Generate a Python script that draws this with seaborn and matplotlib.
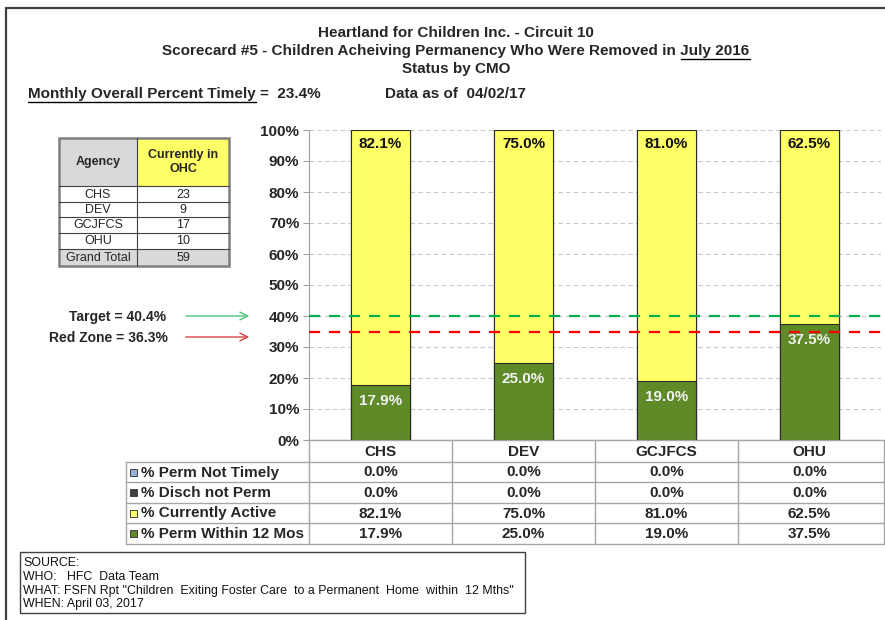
"""
Scorecard #5 - Children Achieving Permanency, status by CMO.
Stacked bars per agency with a data table under the axis.
"""
import matplotlib
matplotlib.use("Agg")
import matplotlib.pyplot as plt
import seaborn as sns
import pandas as pd
from matplotlib.patches import Rectangle

# --- DATA ---
AGENCIES = ['CHS', 'DEV', 'GCJFCS', 'OHU']
PCT_PERM_NOT_TIMELY = [0.0, 0.0, 0.0, 0.0]
PCT_DISCH_NOT_PERM = [0.0, 0.0, 0.0, 0.0]
PCT_CURRENTLY_ACTIVE = [82.1, 75.0, 81.0, 62.5]
PCT_PERM_WITHIN_12 = [17.9, 25.0, 19.0, 37.5]

SERIES_NAMES = ['% Perm Not Timely', '% Disch not Perm',
                '% Currently Active', '% Perm Within 12 Mos']

OHC_AGENCY = ['CHS', 'DEV', 'GCJFCS', 'OHU', 'Grand Total']
OHC_COUNT = [23, 9, 17, 10, 59]

TARGET_PCT = 40.4
RED_ZONE_PCT = 36.3
TARGET_LINE = 40.0      # where the lines actually sit on the original chart
RED_ZONE_LINE = 34.7
OVERALL_TIMELY = 23.4
DATA_AS_OF = '04/02/17'

TITLE_LINES = ['Heartland for Children Inc. - Circuit 10',
               'Scorecard #5 - Children Acheiving Permanency Who Were Removed in July 2016',
               'Status by CMO']
SOURCE_LINES = ['SOURCE:',
                'WHO:   HFC  Data Team',
                'WHAT: FSFN Rpt "Children  Exiting Foster Care  to a Permanent  Home  within  12 Mths"',
                'WHEN: April 03, 2017']

# --- STYLE ---
COLORS = {
    '% Perm Not Timely': '#95B3D7',
    '% Disch not Perm': '#404040',
    '% Currently Active': '#FFFF66',
    '% Perm Within 12 Mos': '#5E8A28',
}
W, H = 885, 620
AX_L, AX_R, AX_T, AX_B = 309, 881, 130, 440
GRID_C = '#C8C8C8'
TABLE_C = '#A6A6A6'

sns.set_style('white')
plt.rcParams['font.family'] = ['Liberation Sans', 'DejaVu Sans']

fig = plt.figure(figsize=(W / 100, H / 100), dpi=100)

# overlay in pixel units for the table / text furniture
ov = fig.add_axes([0, 0, 1, 1])
ov.set_xlim(0, W)
ov.set_ylim(H, 0)
ov.axis('off')

ax = fig.add_axes([AX_L / W, 1 - AX_B / H, (AX_R - AX_L) / W, (AX_B - AX_T) / H])

# --- STACKED BARS ---
df = pd.DataFrame({
    'Agency': AGENCIES,
    '% Perm Within 12 Mos': PCT_PERM_WITHIN_12,
    '% Currently Active': PCT_CURRENTLY_ACTIVE,
    '% Disch not Perm': PCT_DISCH_NOT_PERM,
    '% Perm Not Timely': PCT_PERM_NOT_TIMELY,
})
stack_order = ['% Perm Within 12 Mos', '% Currently Active', '% Disch not Perm', '% Perm Not Timely']
df_cum = df[stack_order].cumsum(axis=1)
df_cum['Agency'] = AGENCIES

for name in reversed(stack_order):
    sns.barplot(data=df_cum, x='Agency', y=name, order=AGENCIES, color=COLORS[name],
                saturation=1, width=0.41, edgecolor='#2b2b2b', linewidth=0.8,
                errorbar=None, ax=ax, zorder=2)

for i, ag in enumerate(AGENCIES):
    top_active = df_cum.loc[i, '% Currently Active']
    perm = df.loc[i, '% Perm Within 12 Mos']
    ax.text(i, top_active - 4.6, f"{df.loc[i, '% Currently Active']:.1f}%", ha='center', va='center',
            fontsize=11, fontweight='bold', color='#111111', zorder=4)
    ax.text(i, perm - 5.2, f"{perm:.1f}%", ha='center', va='center',
            fontsize=11, fontweight='bold', color='#F2F2F2', zorder=4)

ax.axhline(TARGET_LINE, color='#00B050', ls=(0, (5, 4)), lw=1.6, zorder=3)
ax.axhline(RED_ZONE_LINE, color='#FF0000', ls=(0, (5, 4)), lw=1.6, zorder=3)

ax.set_ylim(0, 100)
ax.set_xlim(-0.5, len(AGENCIES) - 0.5)
ax.set_yticks(range(0, 101, 10))
ax.set_yticklabels([f'{v}%' for v in range(0, 101, 10)], fontsize=11, fontweight='bold')
ax.yaxis.grid(True, linestyle=(0, (4, 3)), color=GRID_C, lw=0.8)
ax.set_axisbelow(True)
ax.set_xlabel('')
ax.set_ylabel('')
ax.set_xticks([])
ax.tick_params(axis='y', length=4, color='#A0A0A0', pad=3, left=True)
for s in ['top', 'right']:
    ax.spines[s].set_visible(False)
ax.spines['left'].set_color('#A0A0A0')
ax.spines['bottom'].set_color(TABLE_C)
ax.patch.set_alpha(0)

# --- DATA TABLE UNDER THE AXIS ---
ROW_Y = [440, 462, 482, 503, 523, 544]
TBL_L, TBL_R = 126, 884
col_w = (AX_R - AX_L) / len(AGENCIES)
col_edges = [AX_L + k * col_w for k in range(len(AGENCIES))] + [TBL_R]

ov.plot([AX_L, TBL_R], [ROW_Y[0], ROW_Y[0]], color=TABLE_C, lw=1)
for y in ROW_Y[1:]:
    ov.plot([TBL_L, TBL_R], [y, y], color=TABLE_C, lw=1)
ov.plot([TBL_L, TBL_L], [ROW_Y[1], ROW_Y[-1]], color=TABLE_C, lw=1)
for x in col_edges:
    ov.plot([x, x], [ROW_Y[0], ROW_Y[-1]], color=TABLE_C, lw=1)

series_vals = {
    '% Perm Not Timely': PCT_PERM_NOT_TIMELY,
    '% Disch not Perm': PCT_DISCH_NOT_PERM,
    '% Currently Active': PCT_CURRENTLY_ACTIVE,
    '% Perm Within 12 Mos': PCT_PERM_WITHIN_12,
}
for i, ag in enumerate(AGENCIES):
    cx = AX_L + (i + 0.5) * col_w
    ov.text(cx, (ROW_Y[0] + ROW_Y[1]) / 2 + 1, ag, ha='center', va='center',
            fontsize=11, fontweight='bold')
for r, name in enumerate(SERIES_NAMES):
    ym = (ROW_Y[r + 1] + ROW_Y[r + 2]) / 2
    ov.add_patch(Rectangle((130, ym - 3.5), 7, 7, facecolor=COLORS[name],
                           edgecolor='#404040', lw=0.7))
    ov.text(141, ym + 0.5, name, ha='left', va='center', fontsize=11, fontweight='bold')
    for i, v in enumerate(series_vals[name]):
        cx = AX_L + (i + 0.5) * col_w
        ov.text(cx, ym + 0.5, f'{v:.1f}%', ha='center', va='center',
                fontsize=11, fontweight='bold')

# --- CURRENTLY IN OHC TABLE ---
LT_X = [59, 137, 229]
LT_Y = [138, 186, 202, 217, 233, 249, 266]
ov.add_patch(Rectangle((LT_X[0], LT_Y[0]), LT_X[1] - LT_X[0], LT_Y[1] - LT_Y[0],
                       facecolor='#D9D9D9', lw=0))
ov.add_patch(Rectangle((LT_X[1], LT_Y[0]), LT_X[2] - LT_X[1], LT_Y[1] - LT_Y[0],
                       facecolor='#FFFF66', lw=0))
ov.add_patch(Rectangle((LT_X[0], LT_Y[-2]), LT_X[2] - LT_X[0], LT_Y[-1] - LT_Y[-2],
                       facecolor='#D9D9D9', lw=0))
for y in LT_Y[1:-1]:
    ov.plot([LT_X[0], LT_X[2]], [y, y], color='#404040', lw=0.8)
ov.plot([LT_X[1], LT_X[1]], [LT_Y[0], LT_Y[-1]], color='#404040', lw=0.8)
ov.add_patch(Rectangle((LT_X[0], LT_Y[0]), LT_X[2] - LT_X[0], LT_Y[-1] - LT_Y[0],
                       facecolor='none', edgecolor='#7F7F7F', lw=1.8))
hy = (LT_Y[0] + LT_Y[1]) / 2
ov.text((LT_X[0] + LT_X[1]) / 2, hy, 'Agency', ha='center', va='center',
        fontsize=9, fontweight='bold', color='#262626')
ov.text((LT_X[1] + LT_X[2]) / 2, hy, 'Currently in\nOHC', ha='center', va='center',
        fontsize=9, fontweight='bold', color='#262626', linespacing=1.2)
for k, (ag, n) in enumerate(zip(OHC_AGENCY, OHC_COUNT)):
    ym = (LT_Y[k + 1] + LT_Y[k + 2]) / 2 + 0.5
    ov.text((LT_X[0] + LT_X[1]) / 2, ym, ag, ha='center', va='center', fontsize=9, color='#262626')
    ov.text((LT_X[1] + LT_X[2]) / 2, ym, str(n), ha='center', va='center', fontsize=9, color='#262626')

# --- TARGET / RED ZONE CALLOUTS ---
ov.text(166, 317, f'Target = {TARGET_PCT}%', ha='right', va='center', fontsize=10, fontweight='bold')
ov.text(168, 338, f'Red Zone = {RED_ZONE_PCT}%', ha='right', va='center', fontsize=10, fontweight='bold')
ov.annotate('', xy=(252, 316), xytext=(183, 316),
            arrowprops=dict(arrowstyle='->', color='#4CC47A', lw=1, mutation_scale=14))
ov.annotate('', xy=(252, 337), xytext=(183, 337),
            arrowprops=dict(arrowstyle='->', color='#D64545', lw=1, mutation_scale=14))

# --- TITLES ---
renderer = fig.canvas.get_renderer()


def width_px(s, **kw):
    t = ov.text(0, 0, s, **kw)
    w = t.get_window_extent(renderer).width
    t.remove()
    return w


title_kw = dict(fontsize=11, fontweight='bold')
for k, (line, y) in enumerate(zip(TITLE_LINES, [33, 51, 69])):
    ov.text(456, y, line, ha='center', va='center', **title_kw)
full_w = width_px(TITLE_LINES[1], **title_kw)
sub_w = width_px('July 2016', **title_kw)
right = 456 + full_w / 2
ov.plot([right - sub_w, right], [58.5, 58.5], color='black', lw=1)

monthly = f'Monthly Overall Percent Timely =  {OVERALL_TIMELY}%'
ov.text(28, 94, monthly, ha='left', va='center', **title_kw)
ul_w = width_px('Monthly Overall Percent Timely', **title_kw)
ov.plot([28, 28 + ul_w], [101.5, 101.5], color='black', lw=1)
ov.text(385, 94, f'Data as of  {DATA_AS_OF}', ha='left', va='center', **title_kw)

# --- SOURCE BOX ---
ov.add_patch(Rectangle((20, 552), 505, 61, facecolor='none', edgecolor='#404040', lw=1))
for line, y in zip(SOURCE_LINES, [563, 577, 591, 604]):
    ov.text(23, y, line, ha='left', va='center', fontsize=8.9, color='#111111')

# --- OUTER FRAME ---
ov.plot([6, 6], [8, H], color='#404040', lw=1.6)
ov.plot([6, W], [8, 8], color='#404040', lw=1.6)

fig.savefig('out.png', dpi=100)
plt.close(fig)
